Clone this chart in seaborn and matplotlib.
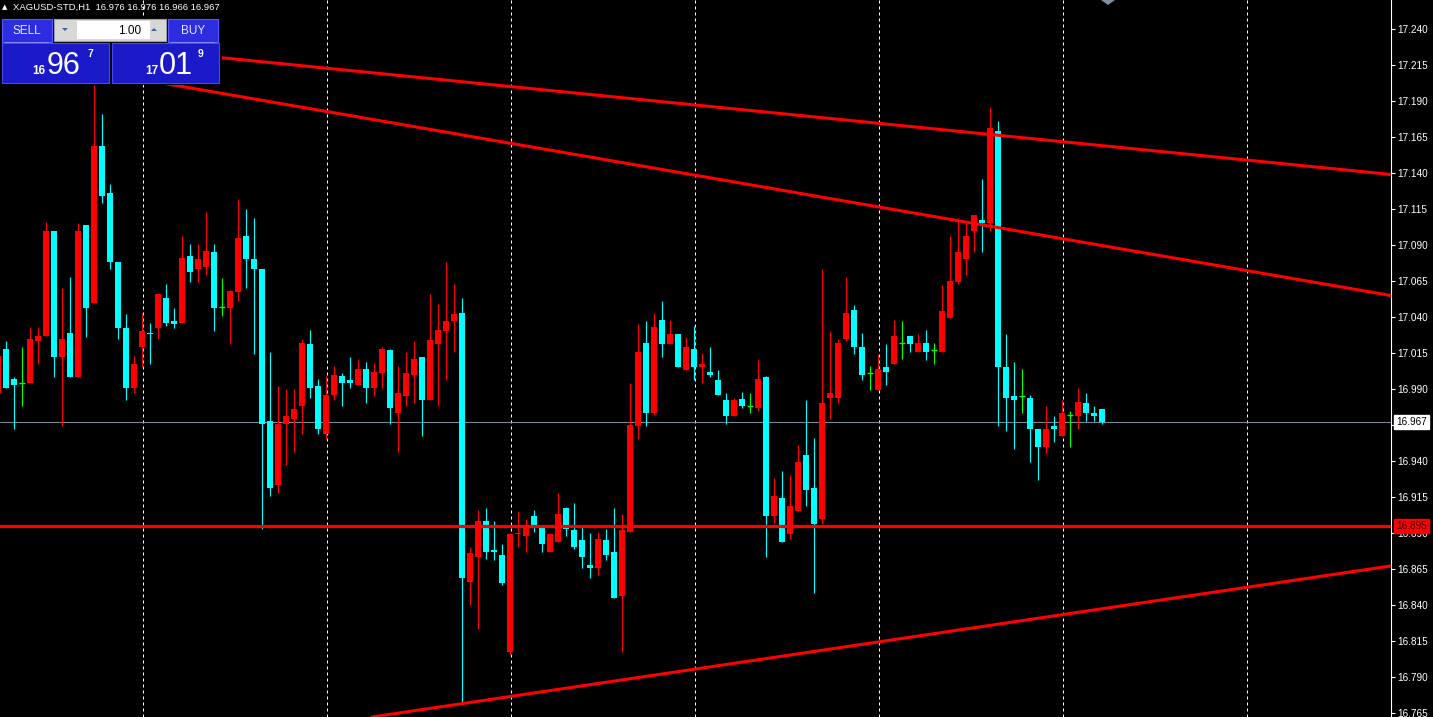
import numpy as np
import pandas as pd
import matplotlib
matplotlib.use("Agg")
from matplotlib import pyplot as plt
from matplotlib.patches import Rectangle, Polygon
from matplotlib.transforms import blended_transform_factory
import seaborn as sns

# %%
# XAGUSD H1 candles (bar index, O, H, L, C)
bar_index = list(range(-1, 138))
open_ = [16.987, 17.018, 16.997, 16.994, 16.994, 17.023, 17.027, 17.100, 17.012, 17.029,
         16.998, 17.104, 17.050, 17.159, 17.126, 17.078, 17.032, 16.991, 17.019, 17.029,
         17.032, 17.053, 17.037, 17.036, 17.082, 17.073, 17.075, 17.085, 17.047, 17.046,
         17.057, 17.096, 17.080, 17.073, 16.968, 16.923, 16.966, 16.969, 16.978, 17.021,
         16.992, 16.959, 16.986, 16.999, 16.996, 16.993, 17.004, 16.991, 17.001, 17.017,
         16.973, 16.985, 17.000, 17.012, 16.982, 17.021, 17.030, 17.037, 17.043, 16.856,
         16.873, 16.898, 16.878, 16.875, 16.807, 16.889, 16.888, 16.902, 16.894, 16.877,
         16.884, 16.907, 16.892, 16.885, 16.868, 16.866, 16.885, 16.877, 16.846, 16.891,
         16.964, 17.022, 16.973, 17.038, 17.021, 17.028, 17.003, 17.018, 17.005, 17.002,
         16.996, 16.982, 16.971, 16.983, 16.978, 16.977, 16.998, 16.902, 16.914, 16.889,
         16.905, 16.944, 16.921, 16.900, 16.984, 16.984, 17.025, 17.045, 17.019, 17.001,
         16.989, 17.005, 17.007, 17.022, 17.027, 17.016, 17.022, 17.017, 17.016, 17.039,
         17.064, 17.080, 17.100, 17.107, 17.105, 17.169, 17.005, 16.985, 16.985, 16.984,
         16.962, 16.950, 16.964, 16.957, 16.972, 16.971, 16.980, 16.973, 16.976]
high = [17.017, 17.023, 16.998, 17.019, 17.033, 17.033, 17.106, 17.100, 17.060, 17.068,
        17.105, 17.104, 17.201, 17.181, 17.132, 17.078, 17.042, 17.013, 17.043, 17.036,
        17.056, 17.063, 17.046, 17.096, 17.091, 17.091, 17.113, 17.091, 17.067, 17.059,
        17.122, 17.115, 17.109, 17.073, 17.016, 16.992, 16.990, 16.990, 17.025, 17.031,
        16.997, 16.999, 17.006, 17.001, 17.012, 17.011, 17.009, 17.008, 17.019, 17.018,
        17.006, 17.016, 17.023, 17.012, 17.056, 17.049, 17.078, 17.063, 17.053, 16.880,
        16.906, 16.907, 16.898, 16.882, 16.889, 16.905, 16.900, 16.906, 16.894, 16.890,
        16.918, 16.908, 16.911, 16.894, 16.890, 16.891, 16.893, 16.907, 16.903, 16.994,
        17.035, 17.037, 17.043, 17.051, 17.038, 17.028, 17.026, 17.034, 17.015, 17.019,
        17.003, 16.987, 16.984, 16.988, 16.987, 17.011, 16.999, 16.928, 16.933, 16.930,
        16.951, 16.982, 16.956, 17.073, 17.030, 17.025, 17.068, 17.048, 17.029, 17.006,
        17.014, 17.021, 17.038, 17.037, 17.027, 17.028, 17.031, 17.022, 17.062, 17.096,
        17.109, 17.105, 17.111, 17.136, 17.186, 17.176, 17.028, 17.009, 17.004, 16.986,
        16.962, 16.978, 16.971, 16.982, 16.975, 16.991, 16.987, 16.978, 16.976]
low = [16.986, 16.991, 16.962, 16.978, 16.994, 17.007, 17.027, 16.998, 16.964, 16.998,
       16.998, 17.026, 17.050, 17.119, 17.073, 17.025, 16.982, 16.987, 17.005, 17.007,
       17.025, 17.034, 17.032, 17.036, 17.064, 17.064, 17.069, 17.030, 17.041, 17.021,
       17.051, 17.060, 17.014, 16.893, 16.916, 16.918, 16.937, 16.946, 16.959, 16.984,
       16.959, 16.955, 16.982, 16.978, 16.991, 16.993, 16.980, 16.985, 16.991, 16.966,
       16.946, 16.978, 16.980, 16.957, 16.982, 16.978, 16.996, 17.016, 16.772, 16.840,
       16.823, 16.872, 16.871, 16.854, 16.805, 16.880, 16.877, 16.891, 16.877, 16.877,
       16.884, 16.888, 16.879, 16.866, 16.859, 16.861, 16.871, 16.845, 16.807, 16.891,
       16.955, 16.964, 16.972, 17.012, 17.021, 17.005, 17.003, 16.996, 16.994, 16.998,
       16.986, 16.966, 16.971, 16.977, 16.973, 16.975, 16.873, 16.897, 16.884, 16.886,
       16.905, 16.909, 16.848, 16.896, 16.969, 16.980, 17.023, 17.014, 16.996, 16.989,
       16.989, 16.993, 17.007, 17.011, 17.016, 17.016, 17.010, 17.007, 17.016, 17.039,
       17.063, 17.069, 17.085, 17.085, 17.100, 16.964, 16.961, 16.948, 16.973, 16.939,
       16.927, 16.945, 16.953, 16.957, 16.950, 16.962, 16.968, 16.968, 16.966]
close = [17.013, 16.991, 16.993, 16.994, 17.025, 17.027, 17.100, 17.012, 17.025, 16.998,
         17.100, 17.046, 17.159, 17.124, 17.078, 17.032, 16.991, 17.007, 17.030, 17.028,
         17.056, 17.036, 17.035, 17.081, 17.071, 17.080, 17.086, 17.046, 17.047, 17.058,
         17.095, 17.080, 17.073, 16.966, 16.921, 16.966, 16.971, 16.976, 17.022, 16.991,
         16.962, 16.986, 17.000, 16.994, 16.994, 17.004, 16.991, 17.002, 17.018, 16.977,
         16.987, 17.001, 17.011, 16.982, 17.024, 17.031, 17.037, 17.042, 16.859, 16.876,
         16.898, 16.877, 16.877, 16.855, 16.889, 16.890, 16.895, 16.894, 16.882, 16.889,
         16.903, 16.893, 16.880, 16.873, 16.866, 16.886, 16.875, 16.845, 16.892, 16.965,
         17.016, 16.973, 17.033, 17.021, 17.028, 17.005, 17.019, 17.005, 17.007, 17.000,
         16.986, 16.971, 16.982, 16.978, 16.978, 16.997, 16.902, 16.916, 16.884, 16.909,
         16.939, 16.920, 16.896, 16.980, 16.987, 17.022, 17.043, 17.019, 17.000, 17.001,
         17.004, 17.002, 17.027, 17.022, 17.021, 17.022, 17.016, 17.017, 17.044, 17.065,
         17.085, 17.096, 17.111, 17.105, 17.171, 17.005, 16.984, 16.982, 16.985, 16.962,
         16.950, 16.962, 16.962, 16.973, 16.972, 16.981, 16.973, 16.971, 16.967]

# price scale labels on the right
price_ticks = [16.765, 16.790, 16.815, 16.840, 16.865, 16.890, 16.915, 16.940, 16.965,
               16.990, 17.015, 17.040, 17.065, 17.090, 17.115, 17.140, 17.165, 17.190,
               17.215, 17.240]
hidden_ticks = [16.965]  # covered by the bid label
grid_bars = [17, 40, 63, 86, 109, 132, 155]

# trendlines: two anchor points each (bar, price)
upper_bars, upper_prices = [27, 173], [17.220, 17.139]
middle_bars, middle_prices = [21, 173], [17.201, 17.055]
lower_bars, lower_prices = [45.5, 173], [16.762, 16.867]
support_level = 16.895
bid_price = 16.967
title = "XAGUSD-STD,H1  16.976 16.976 16.966 16.967"

df = pd.DataFrame({"bar": bar_index, "open": open_, "high": high,
                   "low": low, "close": close})

# %%
sns.set_style("dark", {"axes.facecolor": "black", "figure.facecolor": "black"})
plt.rcParams['font.family'] = ['Liberation Sans', 'DejaVu Sans']

W, H = 1433, 717
fig = plt.figure(figsize=(W / 100, H / 100), dpi=100)
fig.patch.set_facecolor("black")
ax = fig.add_axes([0, 0, 1391 / W, 1])
ax.set_facecolor("black")
ax.set_xlim(-0.75, 173.125)
ax.set_ylim(16.7622, 17.2601)

# candle colours: up = red, down = cyan, flat = green
up = df["close"] > df["open"]
down = df["close"] < df["open"]
flat = df["close"] == df["open"]
df["color"] = np.where(up, "#FF0000", np.where(down, "#00FFFF", "#00FF00"))

# grid + bid line in the background
for g in grid_bars:
    ax.axvline(g + 0.1, color="white", lw=0.72, ls=(0, (3, 3)), zorder=1)
ax.axhline(bid_price, color="#778899", lw=0.8, zorder=1.5)

# wicks
ax.vlines(df["bar"], df["low"], df["high"], colors=df["color"], lw=0.85, zorder=2)

# bodies
body = df[~flat]
bottom = np.minimum(body["open"], body["close"])
height = np.maximum((body["open"] - body["close"]).abs(), 0.0008)
ax.bar(body["bar"], height, bottom=bottom, width=0.68, color=body["color"],
       linewidth=0, zorder=3)
doji = df[flat]
ax.hlines(doji["open"], doji["bar"] - 0.34, doji["bar"] + 0.34, colors="#00FF00",
          lw=1.0, zorder=3)

# trendlines and horizontal level
for bx, py in [(upper_bars, upper_prices), (middle_bars, middle_prices),
               (lower_bars, lower_prices)]:
    ax.axline((bx[0], py[0]), (bx[1], py[1]), color="#FF0000", lw=2.2, zorder=4)
ax.axhline(support_level, color="#FF0000", lw=2.3, zorder=4)

# price axis
for s in ["top", "left", "bottom"]:
    ax.spines[s].set_visible(False)
ax.spines["right"].set_color("white")
ax.spines["right"].set_linewidth(0.8)
ax.set_xticks([])
ax.yaxis.tick_right()
ax.set_yticks(price_ticks)
ax.set_yticklabels(["" if t in hidden_ticks else f"{t:.3f}" for t in price_ticks])
ax.tick_params(axis="y", colors="white", labelcolor="white", labelsize=7.2,
               length=3, width=0.8, pad=1.5)
ax.grid(False)

trans = blended_transform_factory(fig.transFigure, ax.transData)
ax.text(1396 / W, bid_price, f"{bid_price:.3f}", transform=trans, fontsize=7.2,
        color="black", va="center", ha="left", clip_on=False, zorder=10,
        bbox=dict(boxstyle="square,pad=0.22", fc="white", ec="white"))
ax.text(1396 / W, support_level, f"{support_level:.3f}", transform=trans,
        fontsize=7.2, color="#400000", va="center", ha="left", clip_on=False,
        zorder=10, bbox=dict(boxstyle="square,pad=0.22", fc="#FF0000", ec="#FF0000"))


# %%
# one-click trading panel and header (pixel positions, top-left origin)
def rect(x0, y0, x1, y1, **kw):
    fig.add_artist(Rectangle((x0 / W, 1 - y1 / H), (x1 - x0) / W, (y1 - y0) / H,
                             transform=fig.transFigure, **kw))


def txt(x, y, s, **kw):
    fig.text(x / W, 1 - y / H, s, **kw)


def tri(pts, **kw):
    fig.add_artist(Polygon([(x / W, 1 - y / H) for x, y in pts], closed=True,
                           transform=fig.transFigure, **kw))


txt(2, 7, "\u25B2", color="white", fontsize=5, va="center", family=["DejaVu Sans"])
txt(13, 7, title, color="white", fontsize=6.8, va="center")
tri([(1101, 0), (1115, 0), (1108, 5)], color="#8090a0", lw=0)

rect(0, 16, 222, 85, color="black", lw=0)
rect(2, 19, 52, 42, fc="#2c2ce0", ec="#5a5aff", lw=0.8)
rect(168, 19, 218, 42, fc="#2c2ce0", ec="#5a5aff", lw=0.8)
rect(5, 41.5, 49, 42.5, color="#8c8cff", lw=0)
rect(171, 41.5, 215, 42.5, color="#8c8cff", lw=0)
txt(27, 30.5, "SELL", color="#e8e8ff", fontsize=8.5, ha="center", va="center")
txt(193, 30.5, "BUY", color="#e8e8ff", fontsize=8.5, ha="center", va="center")

rect(54, 19, 166, 41, fc="#d8d8d8", ec="#a0a0a0", lw=0.8)
rect(77, 21, 150, 39, fc="white", lw=0)
tri([(62, 28), (68, 28), (65, 31)], color="#4060a0", lw=0)
tri([(151, 31), (157, 31), (154, 28)], color="#4060a0", lw=0)
txt(141, 30.5, "1.00", color="black", fontsize=8.5, ha="right", va="center")

rect(2, 43, 109, 83, fc="#1a1ac8", ec="#4848f0", lw=0.8)
rect(112, 43, 219, 83, fc="#1a1ac8", ec="#4848f0", lw=0.8)
txt(45, 74, "16", color="white", fontsize=8.5, fontweight="bold", ha="right",
    va="baseline")
txt(47, 74, "96", color="white", fontsize=22, ha="left", va="baseline")
txt(87, 57, "7", color="white", fontsize=7.5, fontweight="bold", ha="left",
    va="baseline")
txt(158, 74, "17", color="white", fontsize=8.5, fontweight="bold", ha="right",
    va="baseline")
txt(159, 74, "01", color="white", fontsize=22, ha="left", va="baseline")
txt(198, 57, "9", color="white", fontsize=7.5, fontweight="bold", ha="left",
    va="baseline")

plt.savefig("out.png", dpi=100, facecolor="black")
